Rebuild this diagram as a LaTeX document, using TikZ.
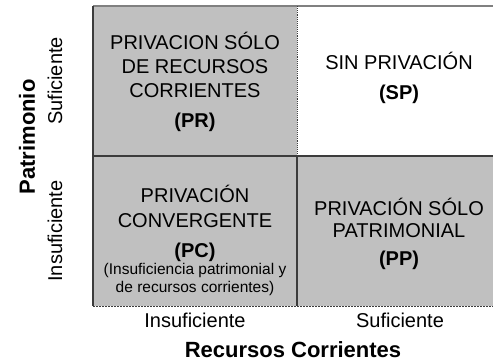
\documentclass[tikz,border=0pt]{standalone}
\usepackage{fontspec}
\setmainfont{Liberation Sans}
\definecolor{cellgray}{RGB}{192,192,192}
\definecolor{linegray}{RGB}{60,60,60}
\begin{document}
\begin{tikzpicture}[x=1pt,y=-1pt,
  cell/.style={draw=none,inner sep=0pt,anchor=north west},
  big/.style={font=\fontsize{20}{24}\selectfont,inner sep=0pt,anchor=base},
  bigb/.style={font=\fontsize{20}{24}\selectfont\bfseries,inner sep=0pt,anchor=base},
  small/.style={font=\fontsize{15.5}{18}\selectfont,inner sep=0pt,anchor=base},
  axis/.style={font=\fontsize{20}{24}\selectfont,inner sep=0pt},
  axisb/.style={font=\fontsize{22}{26}\selectfont\bfseries,inner sep=0pt},
  border/.style={draw=linegray,line width=1.1pt}]
\useasboundingbox (0,0) rectangle (493,364);
% cells
\node[cell,fill=cellgray,minimum width=204pt,minimum height=150pt] (pr) at (93,6) {};
\node[cell,fill=white,minimum width=196pt,minimum height=150pt] (sp) at (297,6) {};
\node[cell,fill=cellgray,minimum width=204pt,minimum height=150pt] (pc) at (93,156) {};
\node[cell,fill=cellgray,minimum width=196pt,minimum height=150pt] (pp) at (297,156) {};
% borders
\draw[border,draw=gray] (pr.north west) -- (sp.north east);
\draw[border] (pr.north west) -- (pc.south west);
\draw[border] (pc.north west) -- (pp.north east);
\draw[border,densely dotted] (pr.north east) -- (pr.south east);
\draw[border] (pp.north west) -- (pp.south west);
\draw[border,densely dashed,dash pattern=on 2pt off 1pt] (pc.south west) -- (pp.south east);
% PR
\node[big] (pr1) at (195,49) {PRIVACION SÓLO};
\node[big] (pr2) at (195,73) {DE RECURSOS};
\node[big] (pr3) at (195,97) {CORRIENTES};
\node[bigb] (pr4) at (195,127) {(PR)};
% SP
\node[big] (sp1) at (399,69) {SIN PRIVACIÓN};
\node[bigb] (sp2) at (399,99) {(SP)};
% PC
\node[big] (pc1) at (195,202) {PRIVACIÓN};
\node[big] (pc2) at (195,227) {CONVERGENTE};
\node[bigb] (pc3) at (195,257) {(PC)};
\node[small] (pc4) at (195,274) {(Insuficiencia patrimonial y};
\node[small] (pc5) at (195,292) {de recursos corrientes)};
% PP
\node[big] (pp1) at (399,215) {PRIVACIÓN SÓLO};
\node[big] (pp2) at (399,237) {PATRIMONIAL};
\node[bigb] (pp3) at (399,265) {(PP)};
% axes
\node[axis,rotate=90] (ysuf) at (55,81) {Suficiente};
\node[axis,rotate=90] (yins) at (55,231) {Insuficiente};
\node[axisb,rotate=90] (ytit) at (27,137) {Patrimonio};
\node[axis] (xins) at (195,320) {Insuficiente};
\node[axis] (xsuf) at (400,320) {Suficiente};
\node[axisb] (xtit) at (293,350) {Recursos Corrientes};
\end{tikzpicture}
\end{document}
